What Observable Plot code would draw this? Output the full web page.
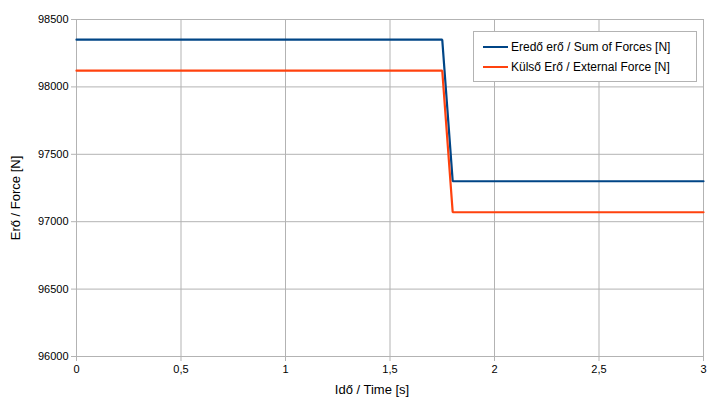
<!DOCTYPE html>
<html>
<head>
<meta charset="utf-8">
<script src="https://cdn.jsdelivr.net/npm/d3@7"></script>
<script src="https://cdn.jsdelivr.net/npm/@observablehq/plot@0.6"></script>
<style>
  body { margin: 0; background: #fff; font-family: "Liberation Sans", Arial, sans-serif; }
  #wrap { position: relative; width: 717px; height: 404px; }
  .legend { position: absolute; left: 473px; top: 31px; width: 224px; height: 51px; box-sizing: border-box;
    border: 1px solid #b3b3b3; background: #fff; font-size: 12px; color: #000; padding-top: 5px; }
  .legend .row { display: flex; align-items: center; height: 20px; }
  .legend .sw { width: 25px; height: 2px; margin-left: 9px; margin-right: 3px; }
</style>
</head>
<body>
<div id="wrap"></div>
<script>
const times = [0, 1.75, 1.8, 3];
const sumForces = [98350, 98350, 97300, 97300];
const externalForce = [98120, 98120, 97070, 97070];
const seriesNames = ["Eredő erő / Sum of Forces [N]", "Külső Erő / External Force [N]"];
const seriesColors = ["#004586", "#ff420e"];
const xTicks = [0, 0.5, 1, 1.5, 2, 2.5, 3];
const yTicks = [96000, 96500, 97000, 97500, 98000, 98500];

const data = [];
times.forEach((t, i) => {
  data.push({t, v: sumForces[i], s: seriesNames[0]});
  data.push({t, v: externalForce[i], s: seriesNames[1]});
});

const chart = Plot.plot({
  width: 717,
  height: 404,
  marginLeft: 76,
  marginRight: 14,
  marginTop: 19,
  marginBottom: 48,
  style: {fontFamily: "'Liberation Sans', Arial, sans-serif", fontSize: "11px", color: "#000", background: "#fff"},
  x: {domain: [0, 3], ticks: xTicks, tickFormat: d => String(d).replace(".", ","), label: "Idő / Time [s]", labelAnchor: "center", labelArrow: "none"},
  y: {domain: [96000, 98500], ticks: yTicks, tickFormat: d => String(d), label: "Erő / Force [N]", labelAnchor: "center", labelArrow: "none"},
  color: {domain: seriesNames, range: seriesColors},
  marks: [
    Plot.gridX(xTicks, {stroke: "#b3b3b3", strokeOpacity: 1}),
    Plot.gridY(yTicks, {stroke: "#b3b3b3", strokeOpacity: 1}),
    Plot.axisX({ticks: xTicks, tickFormat: d => String(d).replace(".", ","), tickSize: 5, stroke: "#b3b3b3", tickPadding: 4, label: "Idő / Time [s]", labelAnchor: "center", labelOffset: 37, labelArrow: "none", fontSize: 11}),
    Plot.axisY({ticks: yTicks, tickFormat: d => String(d), tickSize: 5, stroke: "#b3b3b3", tickPadding: 3, label: "Erő / Force [N]", labelAnchor: "center", labelOffset: 66, labelArrow: "none", fontSize: 11}),
    Plot.line(data, {x: "t", y: "v", z: "s", stroke: "s", strokeWidth: 2.2, strokeLinejoin: "miter", curve: "linear"})
  ]
});
chart.querySelectorAll("[aria-label='x-axis label'] text").forEach(t => {
  t.style.fontSize = "13px";
  t.setAttribute("dx", "-18");
});
chart.querySelectorAll("[aria-label='y-axis label'] text").forEach(t => {
  t.style.fontSize = "13px";
  t.setAttribute("dx", "-10");
});
const wrap = document.getElementById("wrap");
wrap.appendChild(chart);

const legend = document.createElement("div");
legend.className = "legend";
seriesNames.forEach((n, i) => {
  const row = document.createElement("div");
  row.className = "row";
  const sw = document.createElement("div");
  sw.className = "sw";
  sw.style.background = seriesColors[i];
  const tx = document.createElement("span");
  tx.textContent = n;
  row.appendChild(sw); row.appendChild(tx);
  legend.appendChild(row);
});
wrap.appendChild(legend);
</script>
</body>
</html>
